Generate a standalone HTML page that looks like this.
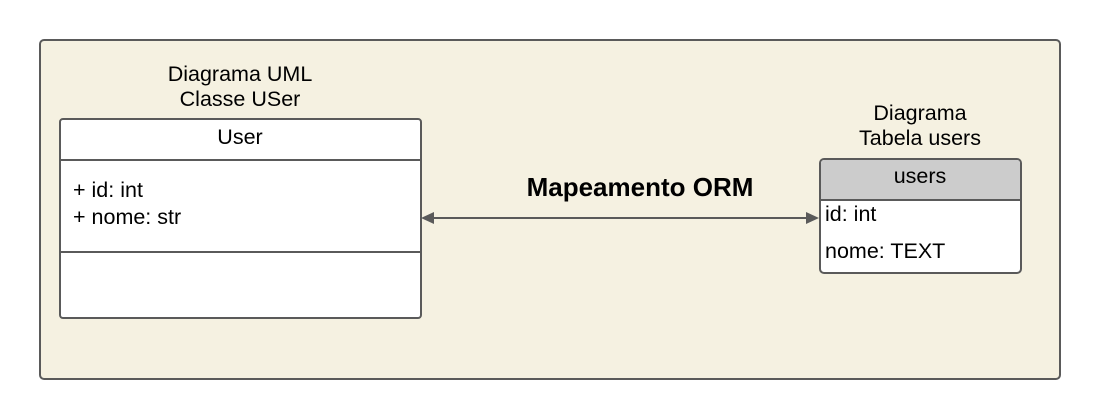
<!DOCTYPE html>
<html><head><meta charset="utf-8"><style>
body{margin:0;width:1100px;height:419px;background:#fff;position:relative;font-family:"Liberation Sans",Arial,sans-serif;overflow:hidden}
.a{position:absolute}
.t{position:absolute;font-size:21.5px;line-height:25px;color:#000;white-space:nowrap}
</style></head><body>
<div class="a" style="left:39px;top:39px;width:1018px;height:337px;background:#f5f1e1;border:2px solid #5a5a5a;border-radius:5px"></div>
<div class="t" style="left:60px;width:360px;text-align:center;top:62px">Diagrama UML<br>Classe USer</div>
<div class="a" style="left:59px;top:118px;width:359px;height:197px;background:#fff;border:2px solid #5a5a5a;border-radius:4px"></div>
<div class="a" style="left:61px;top:159px;width:359px;height:2px;background:#5a5a5a"></div>
<div class="a" style="left:61px;top:251px;width:359px;height:2px;background:#5a5a5a"></div>
<div class="t" style="left:60px;width:360px;text-align:center;top:125px">User</div>
<div class="t" style="left:73px;top:177px;line-height:27px">+ id: int<br>+ nome: str</div>
<div class="t" style="left:820px;width:200px;text-align:center;top:101px">Diagrama<br>Tabela users</div>
<div class="a" style="left:819px;top:158px;width:199px;height:112px;background:#fff;border:2px solid #5a5a5a;border-radius:5px;overflow:hidden">
<div style="height:39px;background:#cccccc;border-bottom:2px solid #5a5a5a"></div></div>
<div class="t" style="left:820px;width:200px;text-align:center;top:164px">users</div>
<div class="t" style="left:825px;top:202px">id: int</div>
<div class="t" style="left:825px;top:239px">nome: TEXT</div>
<div class="t" style="left:420px;width:440px;text-align:center;top:172px;font-size:26px;font-weight:bold;line-height:30px">Mapeamento ORM</div>
<svg class="a" style="left:0;top:0" width="1100" height="419">
<line x1="432" y1="218" x2="808" y2="218" stroke="#5a5a5a" stroke-width="2"/>
<polygon points="421,218 434,212 434,224" fill="#5a5a5a"/>
<polygon points="819,218 806,212 806,224" fill="#5a5a5a"/>
</svg>
</body></html>
